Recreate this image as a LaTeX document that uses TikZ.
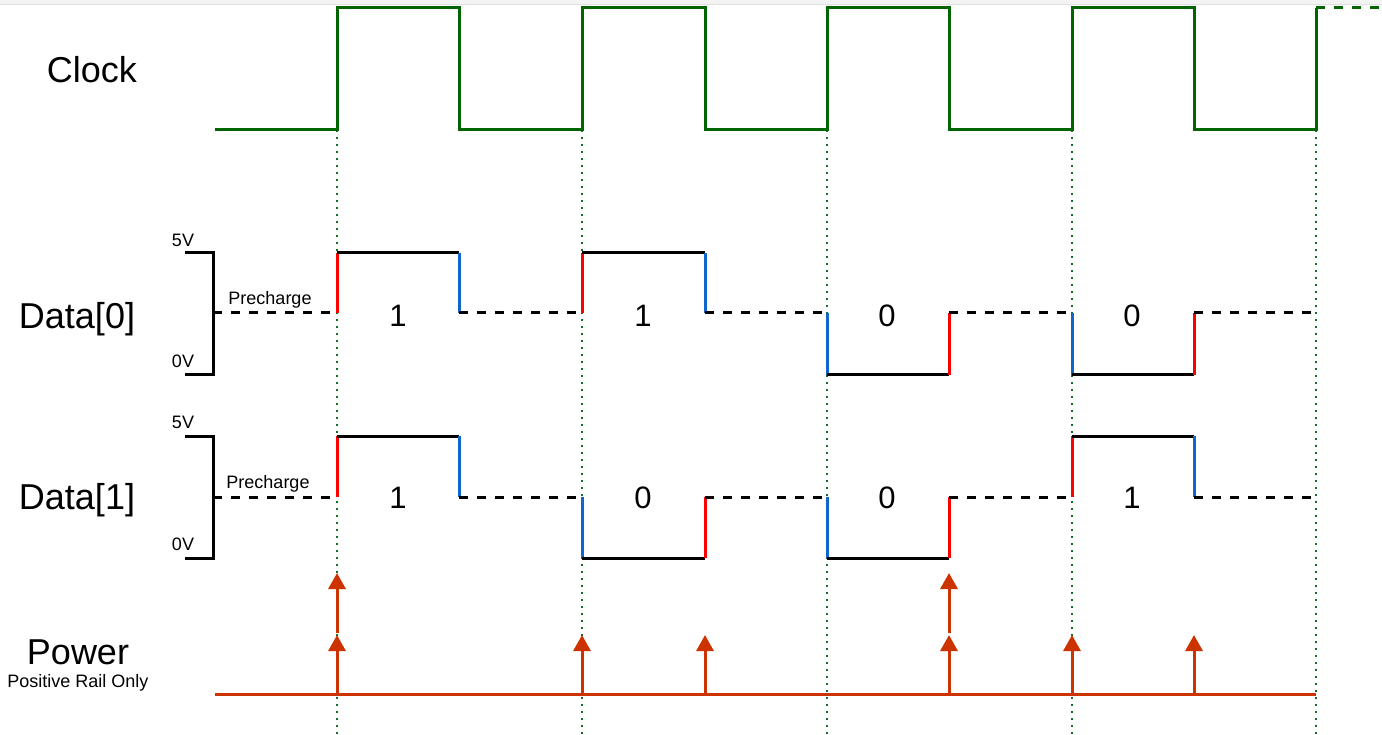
\documentclass[tikz,border=0pt]{standalone}
\usepackage{fontspec}
\setmainfont{Liberation Sans}
\usetikzlibrary{arrows.meta}
\definecolor{clkgreen}{RGB}{0,100,0}
\definecolor{dotgreen}{RGB}{20,110,40}
\definecolor{risered}{RGB}{255,0,0}
\definecolor{fallblue}{RGB}{17,102,204}
\definecolor{pwrorange}{RGB}{204,51,0}
\definecolor{topgray}{RGB}{243,243,243}
\begin{document}
\begin{tikzpicture}[x=1pt,y=-1pt,
  clkline/.style={clkgreen,line width=3pt},
  edgeline/.style={dotgreen,line width=1.6pt,dash pattern=on 1.6pt off 5.4pt},
  lvl/.style={black,line width=3pt},
  pre/.style={black,line width=3pt,dash pattern=on 9pt off 9pt},
  up/.style={risered,line width=3pt},
  down/.style={fallblue,line width=3pt},
  pwr/.style={pwrorange,line width=3pt},
  spike/.style={pwr,-{Triangle[width=17pt,length=16pt]}},
  biglabel/.style={font=\fontsize{36}{40}\selectfont},
  bitlabel/.style={font=\fontsize{31}{34}\selectfont},
  smalllabel/.style={font=\fontsize{18}{20}\selectfont}]
\useasboundingbox (0,0) rectangle (1382,735);
\fill[topgray] (0,0) rectangle (1382,5);
\draw[black!12,line width=1pt] (0,5) -- (1382,5);
% rising clock edges
\draw[edgeline] (337,130) -- (337,735);
\draw[edgeline] (582,130) -- (582,735);
\draw[edgeline] (827,130) -- (827,735);
\draw[edgeline] (1072,130) -- (1072,735);
\draw[edgeline] (1316,130) -- (1316,735);
% clock
\node[biglabel] (clock) at (92,70) {Clock};
\draw[clkline] (215,130) -- (337,130) -- (337,8) -- (459,8) -- (459,130) -- (582,130) -- (582,8)
  -- (705,8) -- (705,130) -- (827,130) -- (827,8) -- (949,8) -- (949,130) -- (1072,130)
  -- (1072,8) -- (1194,8) -- (1194,130) -- (1316,130) -- (1316,8);
\draw[clkline,dash pattern=on 9pt off 9pt] (1316,8) -- (1382,8);
% data 0
\node[biglabel] (data0) at (77,319) {Data[0]};
\node[smalllabel] (hiA) at (183,240) {5V};
\node[smalllabel] (loA) at (183,361) {0V};
\node[smalllabel] (preA) at (270,300) {Precharge};
\draw[lvl] (185,253) -- (213,253) -- (213,375) -- (185,375);
\draw[pre] (213,313) -- (337,313);
\draw[up] (337,313) -- (337,253);
\draw[lvl] (337,253) -- (459,253);
\draw[down] (459,253) -- (459,313);
\draw[pre] (459,313) -- (582,313);
\draw[up] (582,313) -- (582,253);
\draw[lvl] (582,253) -- (705,253);
\draw[down] (705,253) -- (705,313);
\draw[pre] (705,313) -- (827,313);
\draw[down] (827,313) -- (827,375);
\draw[lvl] (827,375) -- (949,375);
\draw[up] (949,375) -- (949,313);
\draw[pre] (949,313) -- (1072,313);
\draw[down] (1072,313) -- (1072,375);
\draw[lvl] (1072,375) -- (1194,375);
\draw[up] (1194,375) -- (1194,313);
\draw[pre] (1194,313) -- (1316,313);
\node[bitlabel] (a1) at (398,316) {1};
\node[bitlabel] (a2) at (643,316) {1};
\node[bitlabel] (a3) at (887,316) {0};
\node[bitlabel] (a4) at (1132,316) {0};
% data 1
\node[biglabel] (data1) at (77,500) {Data[1]};
\node[smalllabel] (hiB) at (183,422) {5V};
\node[smalllabel] (loB) at (183,544) {0V};
\node[smalllabel] (preB) at (268,484) {Precharge};
\draw[lvl] (185,436) -- (213,436) -- (213,558) -- (185,558);
\draw[pre] (213,497) -- (337,497);
\draw[up] (337,497) -- (337,436);
\draw[lvl] (337,436) -- (459,436);
\draw[down] (459,436) -- (459,497);
\draw[pre] (459,497) -- (582,497);
\draw[down] (582,497) -- (582,558);
\draw[lvl] (582,558) -- (705,558);
\draw[up] (705,558) -- (705,497);
\draw[pre] (705,497) -- (827,497);
\draw[down] (827,497) -- (827,558);
\draw[lvl] (827,558) -- (949,558);
\draw[up] (949,558) -- (949,497);
\draw[pre] (949,497) -- (1072,497);
\draw[up] (1072,497) -- (1072,436);
\draw[lvl] (1072,436) -- (1194,436);
\draw[down] (1194,436) -- (1194,497);
\draw[pre] (1194,497) -- (1316,497);
\node[bitlabel] (b1) at (398,498) {1};
\node[bitlabel] (b2) at (643,498) {0};
\node[bitlabel] (b3) at (887,498) {0};
\node[bitlabel] (b4) at (1132,498) {1};
% power
\node[biglabel] (power) at (78,652) {Power};
\node[smalllabel] (rail) at (78,683) {Positive Rail Only};
\draw[pwr] (215,694) -- (1316,694);
\draw[spike] (337,694) -- (337,635);
\draw[spike] (337,633) -- (337,573);
\draw[spike] (582,694) -- (582,635);
\draw[spike] (705,694) -- (705,635);
\draw[spike] (949,694) -- (949,635);
\draw[spike] (949,633) -- (949,573);
\draw[spike] (1072,694) -- (1072,635);
\draw[spike] (1194,694) -- (1194,635);
\end{tikzpicture}
\end{document}
